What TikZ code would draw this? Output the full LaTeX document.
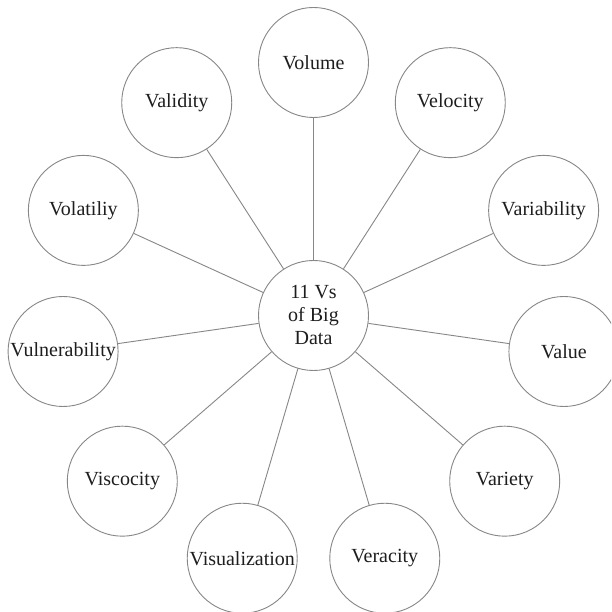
\documentclass[tikz,border=0pt]{standalone}
\usepackage{fontspec}
\setmainfont{Liberation Serif}
\definecolor{linegray}{RGB}{135,135,135}
\definecolor{labelink}{RGB}{30,30,30}
\begin{document}
\begin{tikzpicture}[x=1pt,y=1pt,
  vcircle/.style={circle,draw=linegray,line width=0.9pt,minimum size=110pt,
    inner sep=0pt,fill=white,align=center,text=labelink,
    font=\fontsize{20}{23}\selectfont},
  spoke/.style={draw=linegray,line width=0.9pt}]
\clip (0,0) rectangle (611,612);
\fill[white] (0,0) rectangle (611,612);
% hub
\node[vcircle] (hub) at (313.5,296.5) {11 Vs\\of Big\\Data};
% eleven Vs evenly spaced around the hub, counter-clockwise from the top
\foreach \name [count=\k from 0] in {Volume,Validity,Volatiliy,Vulnerability,
    Viscocity,Visualization,Veracity,Variety,Value,Variability,Velocity}
  \path (hub.center) ++({90+\k*360/11}:253) node[vcircle,name=\name] {\name};
% spokes
\foreach \name in {Volume,Validity,Volatiliy,Vulnerability,
    Viscocity,Visualization,Veracity,Variety,Value,Variability,Velocity}
  \draw[spoke] (hub) -- (\name);
\end{tikzpicture}
\end{document}
